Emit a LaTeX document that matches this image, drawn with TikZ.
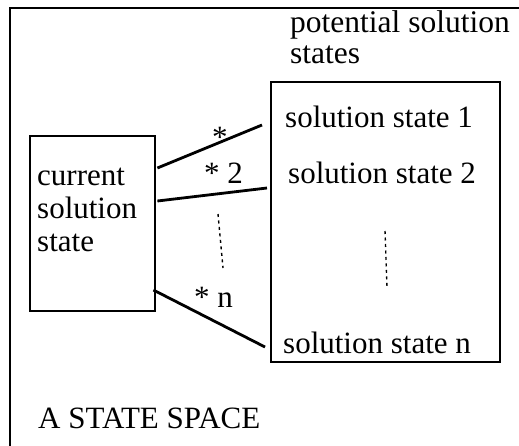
\documentclass[tikz,border=0pt]{standalone}
\usepackage{fontspec}
\setmainfont{Liberation Serif}
\usetikzlibrary{calc}
\begin{document}
\begin{tikzpicture}[x=1pt,y=-1pt,
  txt/.style={inner sep=0pt,anchor=base west,font=\fontsize{31}{33}\selectfont},
  boxstyle/.style={draw,line width=2.4pt,inner sep=0pt,anchor=north west},
  conn/.style={line width=2.8pt},
  dots/.style={line width=1.4pt,dash pattern=on 3pt off 3.5pt}]
\useasboundingbox[fill=white] (0,0) rectangle (519,445);
\draw[line width=2pt] (10,8) rectangle (560,480);
% boxes
\node[boxstyle,minimum width=125pt,minimum height=175pt] (cur) at (29,135) {};
\node[boxstyle,minimum width=229pt,minimum height=280pt] (sol) at (270,81) {};
% texts (multi-line nodes: base is the last line)
\node[txt,align=left] (curtxt) at (37,251) {current\\solution\\state};
\node[txt,align=left,font=\fontsize{31.5}{31}\selectfont] (pot) at (290,63) {potential solution\\states};
\node[txt] (s1) at (285,127) {solution state 1};
\node[txt] (s2) at (288,183) {solution state 2};
\node[txt] (sn) at (283,353) {solution state n};
\node[txt] (title) at (38,428) {A STATE SPACE};
% connector end points
\coordinate (a1) at ($(cur.north east)+(1,33)$);
\coordinate (b1) at ($(sol.north west)+(-8,44)$);
\coordinate (a2) at ($(cur.north east)+(1,66)$);
\coordinate (b2) at ($(sol.north west)+(-3,107)$);
\coordinate (a3) at ($(cur.north east)+(-3,155)$);
\coordinate (b3) at ($(sol.north west)+(-5,266)$);
\draw[conn] (a1) -- (b1);
\draw[conn] (a2) -- (b2);
\draw[conn] (a3) -- (b3);
% connector labels
\node[txt] (l1) at (212,147) {*};
\node[txt] (l2) at (204,183) {* 2};
\node[txt] (l3) at (194,307) {* n};
% dotted continuations
\coordinate (d1a) at (218,214);
\coordinate (d1b) at (223,268);
\draw[dots] (d1a) -- (d1b);
\coordinate (d2a) at (385,231);
\coordinate (d2b) at (387,287);
\draw[dots] (d2a) -- (d2b);
\end{tikzpicture}
\end{document}
